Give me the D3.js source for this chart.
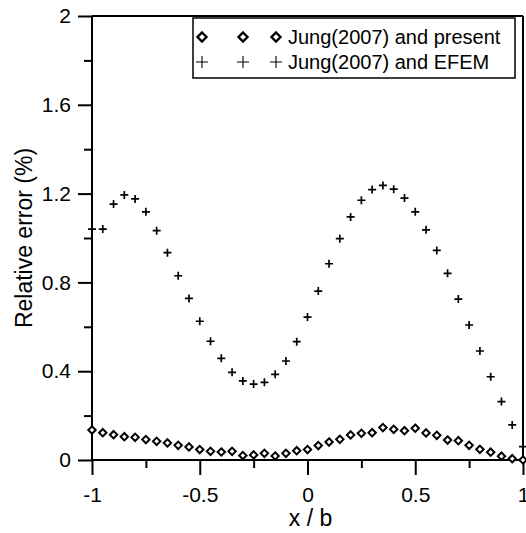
<!DOCTYPE html>
<html>
<head>
<meta charset="utf-8">
<script src="https://cdn.jsdelivr.net/npm/d3@7"></script>
<style>
  body { margin: 0; background: #fff; }
  text { font-family: "Liberation Sans", Arial, sans-serif; fill: #000; }
</style>
</head>
<body>
<div id="chart"></div>
<script>
// x / b positions
var xPos = [-1, -0.95, -0.9, -0.85, -0.8, -0.75, -0.7, -0.65, -0.6, -0.55, -0.5,
  -0.45, -0.4, -0.35, -0.3, -0.25, -0.2, -0.15, -0.1, -0.05, 0,
  0.05, 0.1, 0.15, 0.2, 0.25, 0.3, 0.35, 0.4, 0.45, 0.5,
  0.55, 0.6, 0.65, 0.7, 0.75, 0.8, 0.85, 0.9, 0.95, 1];

// Jung(2007) and present
var presentErr = [0.135, 0.123, 0.114, 0.105, 0.102, 0.092, 0.084, 0.077, 0.066, 0.059, 0.047,
  0.039, 0.036, 0.039, 0.020, 0.023, 0.030, 0.018, 0.030, 0.042, 0.047,
  0.065, 0.081, 0.093, 0.113, 0.120, 0.123, 0.146, 0.138, 0.132, 0.143,
  0.122, 0.111, 0.090, 0.087, 0.066, 0.048, 0.035, 0.017, 0.006, 0.0];

// Jung(2007) and EFEM
var efemErr = [1.04, 1.04, 1.153, 1.194, 1.176, 1.118, 1.033, 0.934, 0.83, 0.728, 0.625,
  0.535, 0.458, 0.395, 0.356, 0.342, 0.35, 0.386, 0.446, 0.533, 0.644,
  0.761, 0.884, 0.997, 1.095, 1.17, 1.218, 1.237, 1.22, 1.18, 1.118,
  1.037, 0.944, 0.841, 0.725, 0.608, 0.491, 0.375, 0.263, 0.158, 0.06];

var xTicks = [-1, -0.5, 0, 0.5, 1];
var xMinor = [-0.75, -0.25, 0.25, 0.75];
var yTicks = [0, 0.4, 0.8, 1.2, 1.6, 2];
var yMinor = [0.2, 0.6, 1.0, 1.4, 1.8];

var legendLabels = ["Jung(2007) and present", "Jung(2007) and EFEM"];

var svgWidth = 526, svgHeight = 533;
var margin = { top: 16, right: 3, bottom: 73, left: 92 };
var width = svgWidth - margin.left - margin.right;
var height = svgHeight - margin.top - margin.bottom;

var svg = d3.select("#chart").append("svg")
  .attr("width", svgWidth)
  .attr("height", svgHeight);

var g = svg.append("g")
  .attr("transform", `translate(${margin.left}, ${margin.top})`);

var x = d3.scaleLinear().domain([-1, 1]).range([0, width]);
var y = d3.scaleLinear().domain([0, 2]).range([height, 0]);

// plain hyphen, as in the original figure
var fmt = d => String(d);

// frame (top and right)
g.append("line").attr("x1", 0).attr("x2", width).attr("y1", 0).attr("y2", 0)
  .attr("stroke", "#000").attr("stroke-width", 2);
g.append("line").attr("x1", width).attr("x2", width).attr("y1", 0).attr("y2", height)
  .attr("stroke", "#000").attr("stroke-width", 2);

// bottom axis
var xAxis = g.append("g")
  .attr("transform", `translate(0, ${height})`)
  .call(d3.axisBottom(x).tickValues(xTicks).tickSize(15).tickPadding(12).tickFormat(fmt));
g.append("g")
  .attr("transform", `translate(0, ${height})`)
  .call(d3.axisBottom(x).tickValues(xMinor).tickSize(8).tickFormat(""))
  .call(a => a.select(".domain").remove());

// left axis
var yAxis = g.append("g")
  .call(d3.axisLeft(y).tickValues(yTicks).tickSize(14).tickPadding(7).tickFormat(fmt));
g.append("g")
  .call(d3.axisLeft(y).tickValues(yMinor).tickSize(8).tickFormat(""))
  .call(a => a.select(".domain").remove());

xAxis.select(".domain").attr("d", `M0,0H${width}`);
yAxis.select(".domain").attr("d", `M0,${height}V0`);
g.selectAll(".domain").attr("stroke-width", 2);
g.selectAll(".tick line").attr("stroke-width", 2);
g.selectAll(".tick text")
  .style("font-size", "21px")
  .style("font-family", "'Liberation Sans', Arial, sans-serif");

// axis titles
svg.append("text")
  .attr("x", margin.left + width / 2 + 3)
  .attr("y", 526)
  .attr("text-anchor", "middle")
  .style("font-size", "23px")
  .text("x / b");

svg.append("text")
  .attr("transform", `translate(32, ${margin.top + height / 2}) rotate(-90)`)
  .attr("text-anchor", "middle")
  .style("font-size", "23px")
  .text("Relative error (%)");

var diamond = function(s) { return `M0,${-s}L${s},0L0,${s}L${-s},0Z`; };
var plus = function(s) { return `M${-s},0H${s}M0,${-s}V${s}`; };

var rows = xPos.map((d, i) => ({ x: d, p: presentErr[i], e: efemErr[i] }));

// EFEM pluses
g.selectAll(".efem").data(rows).enter().append("path")
  .attr("class", "efem")
  .attr("transform", d => `translate(${x(d.x)}, ${y(d.e)})`)
  .attr("d", plus(4))
  .attr("fill", "none")
  .attr("stroke", "#000")
  .attr("stroke-width", 1.7);

// present diamonds
g.selectAll(".present").data(rows).enter().append("path")
  .attr("class", "present")
  .attr("transform", d => `translate(${x(d.x)}, ${y(d.p)})`)
  .attr("d", diamond(3.7))
  .attr("fill", "#fff")
  .attr("stroke", "#000")
  .attr("stroke-width", 2);

// legend
var legend = svg.append("g");
legend.append("rect")
  .attr("x", 193).attr("y", 18).attr("width", 322).attr("height", 60)
  .attr("fill", "#fff").attr("stroke", "#000").attr("stroke-width", 1.5);

var legendX = [202, 243, 276];
legend.selectAll(".ld").data(legendX).enter().append("path")
  .attr("transform", d => `translate(${d}, 37)`)
  .attr("d", diamond(4.5))
  .attr("fill", "#fff").attr("stroke", "#000").attr("stroke-width", 2.4);
legend.selectAll(".lp").data(legendX).enter().append("path")
  .attr("transform", d => `translate(${d}, 62)`)
  .attr("d", plus(6))
  .attr("fill", "none").attr("stroke", "#000").attr("stroke-width", 1.1);

legend.selectAll(".lt").data(legendLabels).enter().append("text")
  .attr("x", 288)
  .attr("y", (d, i) => 44 + i * 25)
  .style("font-size", "20px")
  .text(d => d);
</script>
</body>
</html>
